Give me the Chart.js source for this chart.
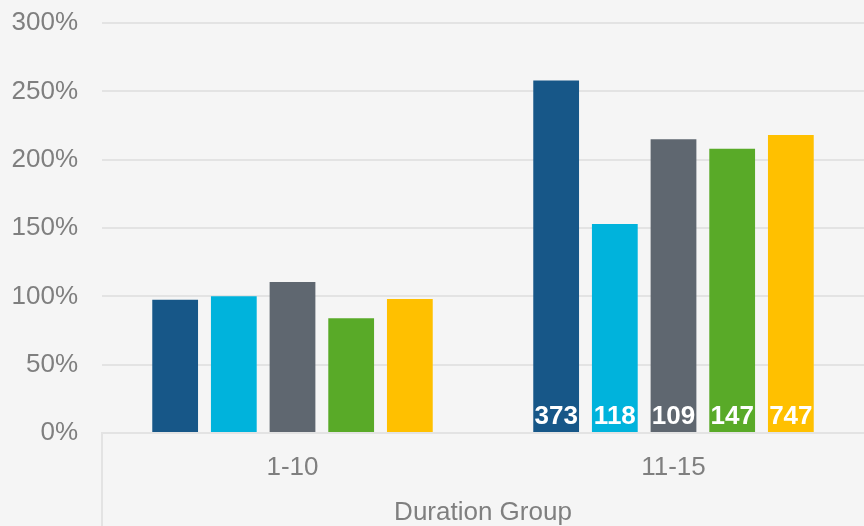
<!DOCTYPE html>
<html>
<head>
<meta charset="utf-8">
<script src="https://cdn.jsdelivr.net/npm/chart.js@4"></script>
<style>
  html, body { margin: 0; padding: 0; background: #f5f5f5; }
  #wrap { width: 864px; height: 526px; position: relative; }
</style>
</head>
<body>
<div id="wrap"><canvas id="chart"></canvas></div>
<script>
const groups = ['1-10', '11-15'];
const seriesA = [97.5, 258];
const seriesB = [100, 153];
const seriesC = [110.5, 215];
const seriesD = [84, 208];
const seriesE = [98, 218];
const groupCounts = ['373', '118', '109', '147', '747']; // shown on 11-15 bars
const colors = ['#175788', '#00b3dc', '#5f6770', '#59aa28', '#ffc000'];
const yTicks = [0, 50, 100, 150, 200, 250, 300];

const GRID = '#e3e3e3';
const TEXT = '#7f7f7f';
const FONT = '"Liberation Sans", Arial, sans-serif';

// draws the white counts at the foot of the 11-15 bars and the left divider
const extras = {
  id: 'extras',
  afterDatasetsDraw(chart) {
    const ctx = chart.ctx;
    const y0 = chart.scales.y.getPixelForValue(0);
    ctx.save();
    ctx.fillStyle = '#ffffff';
    ctx.font = 'bold 26px ' + FONT;
    ctx.textAlign = 'center';
    ctx.textBaseline = 'middle';
    chart.data.datasets.forEach((ds, i) => {
      const bar = chart.getDatasetMeta(i).data[1];
      ctx.fillText(groupCounts[i], bar.x, y0 - 16);
    });
    ctx.restore();
  },
  afterDraw(chart) {
    const ctx = chart.ctx;
    const left = chart.chartArea.left;
    const y0 = chart.chartArea.bottom;
    ctx.save();
    ctx.strokeStyle = GRID;
    ctx.lineWidth = 2;
    ctx.beginPath();
    ctx.moveTo(left, y0);
    ctx.lineTo(left, chart.height);
    ctx.stroke();
    ctx.restore();
  }
};

new Chart(document.getElementById('chart'), {
  type: 'bar',
  data: {
    labels: groups,
    datasets: [seriesA, seriesB, seriesC, seriesD, seriesE].map((d, i) => ({
      label: 'Series ' + (i + 1),
      data: d,
      backgroundColor: colors[i],
      barPercentage: 0.78,
      categoryPercentage: 0.77
    }))
  },
  options: {
    responsive: true,
    maintainAspectRatio: false,
    animation: false,
    layout: { padding: { top: 23, right: 0, bottom: 0, left: 12 } },
    plugins: {
      legend: { display: false },
      tooltip: { enabled: false }
    },
    scales: {
      x: {
        afterFit(axis) { axis.height = 93; },
        grid: { display: false },
        border: { color: GRID, width: 2 },
        ticks: {
          color: TEXT,
          font: { family: FONT, size: 26 },
          padding: 11
        },
        title: {
          display: true,
          text: 'Duration Group',
          color: TEXT,
          font: { family: FONT, size: 26 },
          padding: { top: 14, bottom: -2 }
        }
      },
      y: {
        afterFit(axis) { axis.width = 90; axis.paddingTop = 0; axis.paddingBottom = 0; },
        min: 0,
        max: 300,
        afterBuildTicks(axis) { axis.ticks = yTicks.map(v => ({ value: v })); },
        grid: { color: GRID, lineWidth: 2, drawTicks: false },
        border: { display: false },
        ticks: {
          color: TEXT,
          font: { family: FONT, size: 26 },
          padding: 24,
          callback: v => v + '%'
        }
      }
    }
  },
  plugins: [extras]
});
</script>
</body>
</html>
